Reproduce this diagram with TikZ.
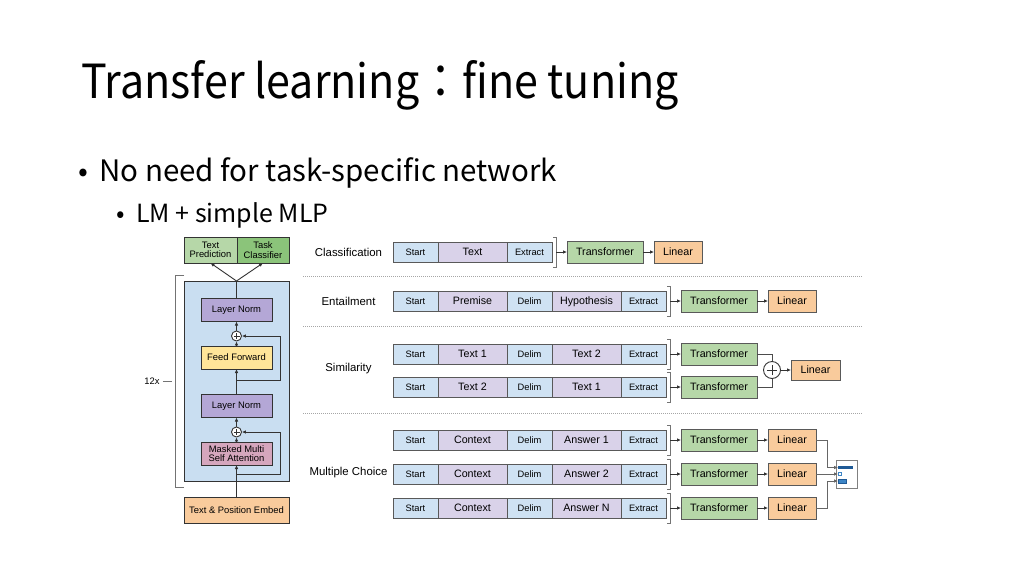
\documentclass[tikz,border=0pt]{standalone}
\usepackage{fontspec}
\setmainfont{Liberation Sans}
\newfontfamily\jpfont{Noto Sans CJK JP}
\newfontfamily\titlefont{Noto Sans CJK JP}[FakeStretch=0.915]
\usetikzlibrary{positioning,arrows.meta,calc}

\definecolor{tokblue}{HTML}{CFE2F3}
\definecolor{txtpurple}{HTML}{D9D2E9}
\definecolor{trgreen}{HTML}{B6D7A8}
\definecolor{linorange}{HTML}{F9CB9C}
\definecolor{edgegray}{HTML}{595959}
\definecolor{stackblue}{HTML}{C9DEF1}
\definecolor{lnpurple}{HTML}{B4A7D6}
\definecolor{ffyellow}{HTML}{FFE599}
\definecolor{attpink}{HTML}{D5A6BD}
\definecolor{clsgreen}{HTML}{8BC47A}
\definecolor{bardark}{HTML}{1F5A96}
\definecolor{barmid}{HTML}{3D85C6}

\def\fs#1{\fontsize{#1}{#1}\selectfont}

\tikzset{
	seg/.style={draw=edgegray, line width=0.9pt, outer sep=0pt, inner sep=0pt, minimum height=20pt},
	tok/.style={seg, fill=tokblue, minimum width=45pt, font=\fs{9.3}, text height=6.7pt, text depth=0pt},
	txt/.style={seg, fill=txtpurple, minimum width=69pt, font=\fs{10.7}, text height=7.7pt, text depth=0pt},
	trf/.style={seg, fill=trgreen, minimum width=76pt, minimum height=22pt, font=\fs{10.7}, text height=7.7pt, text depth=0pt},
	lin/.style={seg, fill=linorange, minimum width=48pt, minimum height=22pt, font=\fs{10.7}, text height=7.7pt, text depth=0pt},
	lbl/.style={font=\fs{11.4}, inner sep=0pt},
	blk/.style={draw=black!80, line width=0.9pt, outer sep=0pt, inner sep=0pt, minimum width=71pt, minimum height=23pt, font=\fs{9.4}, align=center},
	addop/.style={circle, draw=black!80, fill=white, line width=0.9pt, minimum size=#1, inner sep=0pt,
		path picture={\draw[line width=0.9pt] ([xshift=-0.3*#1]path picture bounding box.center) -- ([xshift=0.3*#1]path picture bounding box.center)
			([yshift=-0.3*#1]path picture bounding box.center) -- ([yshift=0.3*#1]path picture bounding box.center);}},
	arr/.style={-{Latex[length=4pt,width=3.6pt]}, line width=0.9pt, draw=black!80},
	brk/.style={draw=black!55, line width=0.9pt},
	sep/.style={draw=black!35, line width=0.8pt, dash pattern=on 1pt off 1pt},
}

\begin{document}
\begin{tikzpicture}[x=1pt, y=-1pt]
	%%%%% START %%%%%
	\useasboundingbox (0,0) rectangle (1024,576);
	\fill[white] (0,0) rectangle (1024,576);

	% title and bullets
	\node[anchor=base west, inner sep=0pt, font=\titlefont\fs{47}] (title) at (81,98) {Transfer learning：fine tuning};
	\node[anchor=base west, inner sep=0pt, font=\jpfont\fs{29}] (dot1) at (78,181) {•};
	\node[anchor=base west, inner sep=0pt, font=\jpfont\fs{29.5}] (item1) at (99,181) {No need for task-specific network};
	\node[anchor=base west, inner sep=0pt, font=\jpfont\fs{25}] (dot2) at (116,222) {•};
	\node[anchor=base west, inner sep=0pt, font=\jpfont\fs{25}] (item2) at (136,222) {LM + simple MLP};

	%%%%% transformer stack %%%%%
	\node[draw=black!80, line width=0.9pt, fill=stackblue, minimum width=105pt, minimum height=200pt, inner sep=0pt, outer sep=0pt] (stack) at (236.5,381) {};
	\node[blk, fill=trgreen, minimum width=53pt, minimum height=26pt] (pred) at (210.5,250) {Text\\Prediction};
	\node[blk, fill=clsgreen, minimum width=52pt, minimum height=26pt] (cls) at (263,250) {Task\\Classifier};
	\node[blk, fill=lnpurple] (ln1) at (236.5,310) {Layer Norm};
	\node[addop=10pt] (add1) at (236.5,336) {};
	\node[blk, fill=ffyellow] (ff) at (236.5,357.5) {Feed Forward};
	\node[blk, fill=lnpurple] (ln2) at (236.5,406) {Layer Norm};
	\node[addop=10pt] (add2) at (236.5,432) {};
	\node[blk, fill=attpink] (att) at (236.5,453.5) {Masked Multi\\Self Attention};
	\node[blk, fill=linorange, minimum width=105pt, minimum height=26pt] (emb) at (236.5,510) {Text \& Position Embed};

	\draw[arr] (emb) -- (att);
	\draw[arr] (att) -- (add2);
	\draw[arr] (add2) -- (ln2);
	\draw[arr] (ln2) -- (ff);
	\draw[arr] (ff) -- (add1);
	\draw[arr] (add1) -- (ln1);
	\draw[line width=0.9pt, draw=black!80] (ln1) -- (stack.north);
	\draw[arr] (stack.north) -- (pred.south);
	\draw[arr] (stack.north) -- (cls.south);

	% residual paths
	\coordinate (res1) at (236.5,380);
	\coordinate (res2) at (236.5,474);
	\draw[arr] (res1) -- ++(44,0) |- (add1.east);
	\draw[arr] (res2) -- ++(44,0) |- (add2.east);

	% 12x bracket
	\draw[brk] (184,275) -- (175,275) -- (175,487) -- (184,487);
	\node[font=\fs{9.4}, inner sep=0pt] (rep) at (152,381) {12x};
	\draw[brk] ([xshift=3pt]rep.east) -- (172,381);

	%%%%% tasks %%%%%
	\node[lbl] (lcls) at (348.5,252) {Classification};
	\node[lbl] (lent) at (348.5,301) {Entailment};
	\node[lbl] (lsim) at (348.5,369) {Similarity};
	\node[lbl] (lmc) at (348.5,473) {Multiple Choice};

	\draw[sep] (303,276) -- (862,276);
	\draw[sep] (303,326) -- (862,326);
	\draw[sep] (303,413) -- (862,413);

	% classification
	\node[tok, anchor=west] (cs) at (393,252) {Start};
	\node[txt, right=0pt of cs] (ct) {Text};
	\node[tok, right=0pt of ct] (ce) {Extract};
	\coordinate (cb) at ([xshift=4pt]ce.east);
	\draw[brk] ([shift={(1pt,-15pt)}]ce.east) -| ([yshift=-15pt]cb) -- ([yshift=15pt]cb) -- ([shift={(1pt,15pt)}]ce.east);
	\node[trf, anchor=west] (ctr) at (567,252) {Transformer};
	\node[lin, anchor=west] (cl) at (654,252) {Linear};
	\draw[arr] (cb) -- (ctr);
	\draw[arr] (ctr) -- (cl);

	% entailment
	\node[tok, anchor=west] (es) at (393,301) {Start};
	\node[txt, right=0pt of es] (ep) {Premise};
	\node[tok, right=0pt of ep] (ed) {Delim};
	\node[txt, right=0pt of ed] (eh) {Hypothesis};
	\node[tok, right=0pt of eh] (ee) {Extract};
	\coordinate (eb) at ([xshift=4pt]ee.east);
	\draw[brk] ([shift={(1pt,-15pt)}]ee.east) -| ([yshift=-15pt]eb) -- ([yshift=15pt]eb) -- ([shift={(1pt,15pt)}]ee.east);
	\node[trf, anchor=west] (etr) at (681,301) {Transformer};
	\node[lin, anchor=west] (el) at (768,301) {Linear};
	\draw[arr] (eb) -- (etr);
	\draw[arr] (etr) -- (el);

	% similarity
	\foreach \r/\y/\ta/\tb in {1/354/Text 1/Text 2, 2/387/Text 2/Text 1}{
		\node[tok, anchor=west] (ss\r) at (393,\y) {Start};
		\node[txt, right=0pt of ss\r] (sa\r) {\ta};
		\node[tok, right=0pt of sa\r] (sd\r) {Delim};
		\node[txt, right=0pt of sd\r] (sc\r) {\tb};
		\node[tok, right=0pt of sc\r] (se\r) {Extract};
		\coordinate (sb\r) at ([xshift=4pt]se\r.east);
		\draw[brk] ([shift={(1pt,-15pt)}]se\r.east) -| ([yshift=-15pt]sb\r) -- ([yshift=15pt]sb\r) -- ([shift={(1pt,15pt)}]se\r.east);
		\node[trf, anchor=west] (str\r) at (681,\y) {Transformer};
		\draw[arr] (sb\r) -- (str\r);
	}
	\node[addop=17pt] (sadd) at (772,370) {};
	\node[lin, anchor=west, minimum width=49pt, minimum height=20pt] (sl) at (791,370) {Linear};
	\draw[line width=0.9pt, draw=black!70] (str1.east) -| (sadd.north);
	\draw[line width=0.9pt, draw=black!70] (str2.east) -| (sadd.south);
	\draw[arr] (sadd) -- (sl);

	% multiple choice
	\foreach \r/\y/\ans in {1/440/Answer 1, 2/474/Answer 2, 3/508/Answer N}{
		\node[tok, anchor=west] (ms\r) at (393,\y) {Start};
		\node[txt, right=0pt of ms\r] (mc\r) {Context};
		\node[tok, right=0pt of mc\r] (md\r) {Delim};
		\node[txt, right=0pt of md\r] (ma\r) {\ans};
		\node[tok, right=0pt of ma\r] (me\r) {Extract};
		\coordinate (mb\r) at ([xshift=4pt]me\r.east);
		\draw[brk] ([shift={(1pt,-15pt)}]me\r.east) -| ([yshift=-15pt]mb\r) -- ([yshift=15pt]mb\r) -- ([shift={(1pt,15pt)}]me\r.east);
		\node[trf, anchor=west] (mtr\r) at (681,\y) {Transformer};
		\node[lin, anchor=west] (ml\r) at (768,\y) {Linear};
		\draw[arr] (mb\r) -- (mtr\r);
		\draw[arr] (mtr\r) -- (ml\r);
	}

	% output scores
	\node[draw=black!50, line width=0.8pt, fill=white, minimum width=21pt, minimum height=28pt, inner sep=0pt] (outbox) at (847,474.5) {};
	\node[fill=bardark, minimum width=15pt, minimum height=3pt, inner sep=0pt, anchor=west] (bar1) at (838,467.5) {};
	\node[draw=barmid, line width=0.7pt, minimum width=3pt, minimum height=3pt, inner sep=0pt, anchor=west] (bar2) at (838,474) {};
	\node[fill=barmid, draw=bardark, line width=0.5pt, minimum width=8pt, minimum height=4pt, inner sep=0pt, anchor=west] (bar3) at (838,481) {};
	\draw[arr, draw=black!60] (ml1.east) -- ++(11,0) |- (bar1.west);
	\draw[arr, draw=black!60] (ml2.east) -- (bar2.west);
	\draw[arr, draw=black!60] (ml3.east) -- ++(11,0) |- (bar3.west);
	%%%%% END %%%%%
\end{tikzpicture}
\end{document}
